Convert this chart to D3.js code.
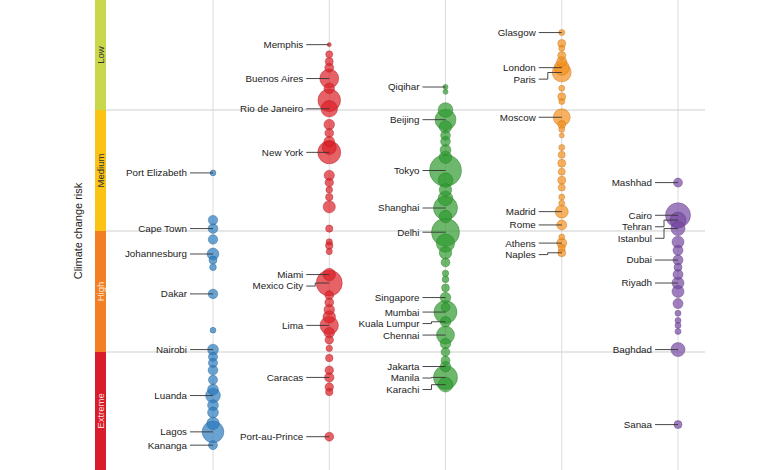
<!DOCTYPE html>
<html><head><meta charset="utf-8">
<script src="https://cdn.jsdelivr.net/npm/d3@7"></script>
<style>
body{margin:0;background:#fff;}
svg{display:block;font-family:"Liberation Sans",Arial,Helvetica,sans-serif;}
</style></head>
<body><svg id="chart" width="780" height="470"></svg>
<script>
// ---- data ----
const regions = ["Africa", "Americas", "Asia", "Europe", "Middle East"];
const riskLevels = ["Low", "Medium", "High", "Extreme"];
// [city (empty = unlabelled), risk score (0-4), population (millions)]
const africa = [
  ["Port Elizabeth",1.52,1.2],["",1.91,3.2],["Cape Town",1.98,3.4],["",2.07,3.2],
  ["Johannesburg",2.19,5.0],["",2.24,2.3],["",2.30,1.6],["Dakar",2.52,3.3],
  ["",2.82,1.2],["Nairobi",2.98,4.2],["",3.04,3.0],["",3.09,3.0],["",3.15,3.4],
  ["",3.23,3.0],["",3.31,4.2],["Luanda",3.36,7.8],["",3.44,4.2],["",3.50,4.2],
  ["",3.59,5.6],["Lagos",3.66,17],["Kananga",3.77,2.9]
];
const americas = [
  ["Memphis",0.46,0.6],["",0.54,1.8],["",0.60,2.3],["",0.65,2.9],["Buenos Aires",0.74,13.0],
  ["",0.82,4.0],["",0.92,18.5],["Rio de Janeiro",0.99,9.8],["",1.12,4.0],["",1.19,2.8],
  ["",1.26,4.0],["",1.31,7.1],["New York",1.35,19.1],["",1.54,3.8],["",1.60,2.6],
  ["",1.66,1.6],["",1.72,2.0],["",1.80,5.4],["",1.98,1.9],["",2.09,1.4],["",2.12,2.0],
  ["",2.17,1.4],["Miami",2.36,5.6],["Mexico City",2.43,24.4],["",2.53,2.8],["",2.59,2.8],
  ["",2.65,4.0],["",2.71,5.6],["Lima",2.78,12.2],["",2.84,4.0],["",2.90,2.6],["",2.97,1.5],
  ["",3.05,2.0],["",3.15,2.6],["Caracas",3.21,3.2],["",3.29,2.6],["",3.33,2.0],
  ["Port-au-Prince",3.70,2.9]
];
const asia = [
  ["Qiqihar",0.81,0.9],["",0.85,0.9],["",1.00,7.8],["Beijing",1.08,15.9],["",1.14,5.6],
  ["",1.21,3.4],["",1.26,3.4],["",1.33,4.2],["",1.39,5.6],["Tokyo",1.50,37],["",1.58,7.8],
  ["",1.66,5.6],["",1.73,7.8],["Shanghai",1.81,20.8],["",1.88,5.6],["Delhi",2.01,28.3],
  ["",2.10,12.2],["",2.18,5.6],["",2.26,2.8],["",2.35,1.5],["",2.40,1.6],["",2.47,2.2],
  ["Singapore",2.55,4.0],["",2.63,2.8],["Mumbai",2.67,19.1],["Kuala Lumpur",2.75,4.0],
  ["Chennai",2.86,11.7],["",2.93,4.0],["",3.00,2.8],["",3.07,2.8],["Jakarta",3.12,4.0],
  ["Manila",3.21,20.8],["Karachi",3.27,7.8]
];
const europe = [
  ["Glasgow",0.36,1.3],["",0.45,2.3],["",0.49,1.3],["",0.55,2.3],["",0.60,3.6],
  ["London",0.65,8.1],["Paris",0.69,13.0],["",0.82,1.3],["",0.89,2.3],["",0.93,1.3],
  ["Moscow",1.06,10.4],["",1.12,2.3],["",1.16,1.3],["",1.21,0.9],["",1.31,1.3],
  ["",1.37,1.8],["",1.44,2.3],["",1.51,1.8],["",1.58,2.3],["",1.64,1.8],["",1.72,1.3],
  ["",1.77,1.3],["Madrid",1.84,6.1],["Rome",1.95,3.6],["",2.05,1.3],["Athens",2.10,3.6],
  ["",2.14,1.8],["Naples",2.18,2.3]
];
const middleEast = [
  ["Mashhad",1.60,2.9],["Cairo",1.87,22.6],["Tehran",1.91,9.25],["Istanbul",1.98,7.1],
  ["",2.09,5.2],["",2.16,3.6],["Dubai",2.24,3.6],["",2.30,2.3],["",2.36,3.6],
  ["Riyadh",2.43,5.2],["",2.50,5.2],["",2.60,3.6],["",2.68,1.3],["",2.74,1.3],
  ["",2.78,1.3],["",2.83,1.3],["Baghdad",2.98,7.1],["Sanaa",3.60,2.3]
];
const regionCities = [africa, americas, asia, europe, middleEast];
const regionColors = ["#2b7bbd", "#dc1f27", "#2f9a2f", "#f3901c", "#7649a2"];
const riskColors = ["#c8d84a", "#fbc313", "#f27f23", "#d81c2b"];
const riskTextColors = ["#333", "#333", "#fde6cf", "#fbd9d9"];

// ---- chart ----
const svg = d3.select("#chart");
const x = d3.scalePoint().domain(regions).range([213, 678]);
const y = d3.scaleLinear().domain([0, 4]).range([-11, 473]);
const r = d3.scaleSqrt().domain([0, 37]).range([0, 16]);
const color = d3.scaleOrdinal().domain(regions).range(regionColors);

// vertical column lines
svg.append("g").selectAll("line").data(regions).join("line")
  .attr("x1", d => x(d)).attr("x2", d => x(d)).attr("y1", 0).attr("y2", 470)
  .attr("stroke", "#dcdcdc").attr("stroke-width", 1);

// horizontal risk boundaries
svg.append("g").selectAll("line").data([1, 2, 3]).join("line")
  .attr("x1", 106).attr("x2", 705).attr("y1", d => y(d)).attr("y2", d => y(d))
  .attr("stroke", "#cfcfcf").attr("stroke-width", 1);

// risk band
const band = svg.append("g");
band.selectAll("rect").data(riskLevels).join("rect")
  .attr("x", 95).attr("width", 11)
  .attr("y", (d, i) => y(i)).attr("height", (d, i) => y(i + 1) - y(i))
  .attr("fill", (d, i) => riskColors[i]);
band.selectAll("text").data(riskLevels).join("text")
  .attr("transform", (d, i) => `translate(101,${(Math.max(0, y(i)) + Math.min(470, y(i + 1))) / 2}) rotate(-90)`)
  .attr("text-anchor", "middle").attr("dy", "0.35em")
  .attr("font-size", 9.5).attr("fill", (d, i) => riskTextColors[i])
  .text(d => d);

svg.append("text")
  .attr("transform", "translate(78,231) rotate(-90)")
  .attr("text-anchor", "middle").attr("dy", "0.35em")
  .attr("font-size", 11).attr("fill", "#222")
  .text("Climate change risk");

// circles
const nodes = [];
regions.forEach((reg, i) => {
  regionCities[i].forEach(([name, risk, pop]) => nodes.push({ reg, name, risk, pop }));
});
const sorted = nodes.slice().sort((a, b) => b.pop - a.pop);
svg.append("g").selectAll("circle").data(sorted).join("circle")
  .attr("cx", d => x(d.reg)).attr("cy", d => y(d.risk)).attr("r", d => r(d.pop))
  .attr("fill", d => color(d.reg)).attr("fill-opacity", 0.7)
  .attr("stroke", d => d3.color(color(d.reg)).darker(0.7)).attr("stroke-opacity", 0.6)
  .attr("stroke-width", 0.7);

// labels with leader lines
const labG = svg.append("g");
regions.forEach(reg => {
  const cx = x(reg);
  const labs = nodes.filter(d => d.reg === reg && d.name)
    .map(d => ({ name: d.name, cy: y(d.risk) }))
    .sort((a, b) => a.cy - b.cy);
  let prev = -Infinity;
  labs.forEach(l => { l.ly = Math.max(l.cy, prev + 11.5); prev = l.ly; });
  labG.selectAll(null).data(labs).join("path")
    .attr("d", l => Math.abs(l.ly - l.cy) < 0.5
      ? `M${cx - 23},${l.ly}H${cx}`
      : `M${cx - 23},${l.ly}H${cx - 14}V${l.cy}H${cx}`)
    .attr("fill", "none").attr("stroke", "#333").attr("stroke-width", 0.9);
  labG.selectAll(null).data(labs).join("text")
    .attr("x", cx - 26).attr("y", l => l.ly).attr("dy", "0.35em")
    .attr("text-anchor", "end").attr("font-size", 9.8).attr("fill", "#222")
    .text(l => l.name);
});
</script></body></html>
